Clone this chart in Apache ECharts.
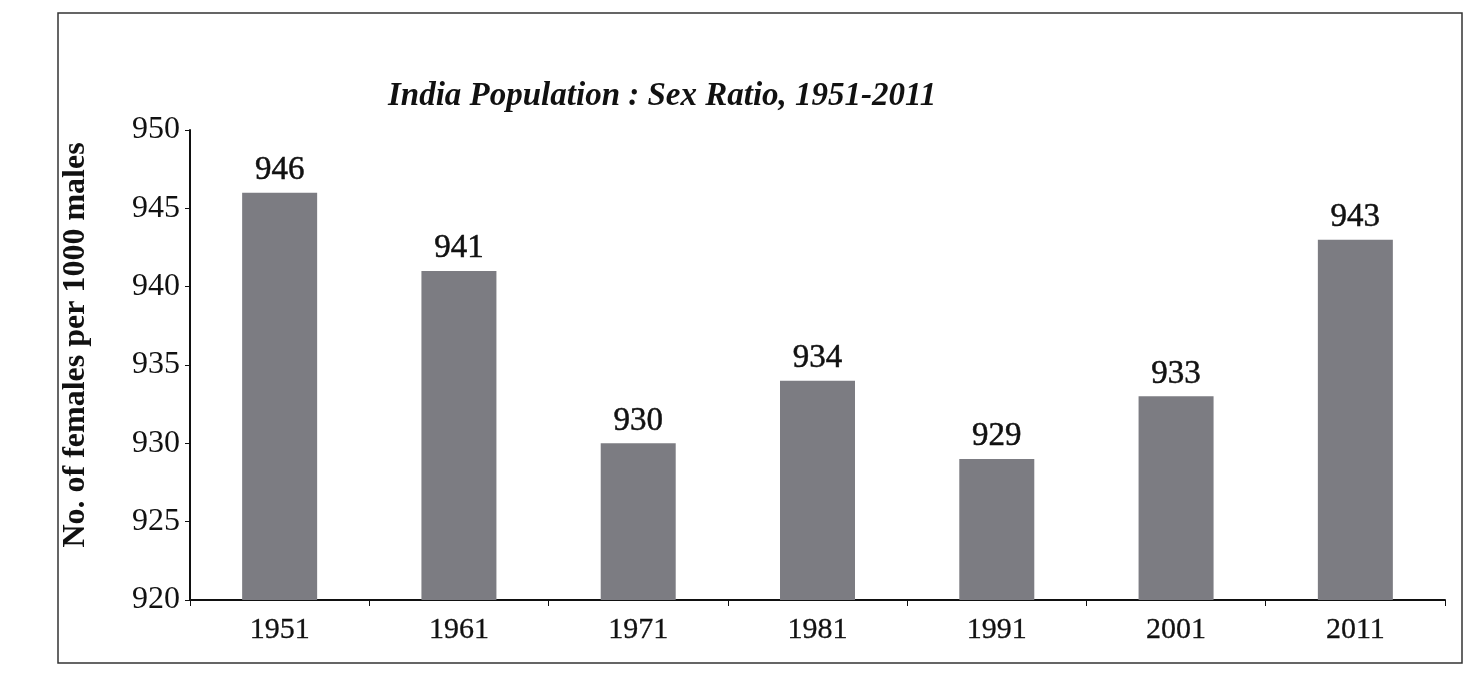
<!DOCTYPE html>
<html>
<head>
<meta charset="utf-8">
<script src="https://cdn.jsdelivr.net/npm/echarts@6/dist/echarts.min.js"></script>
<style>
  html, body { margin: 0; padding: 0; background: #fff; }
  #chart { width: 1481px; height: 676px; }
</style>
</head>
<body>
<div id="chart"></div>
<script>
// Census years and sex ratio (females per 1000 males)
const years = ['1951', '1961', '1971', '1981', '1991', '2001', '2011'];
const sexRatio = [946, 941, 930, 934, 929, 933, 943];
const yTicks = [920, 925, 930, 935, 940, 945, 950];

const serif = '"Liberation Serif", "DejaVu Serif", serif';

const chart = echarts.init(document.getElementById('chart'));

chart.setOption({
    backgroundColor: '#ffffff',
    animation: false,
    title: {
        text: 'India Population : Sex Ratio, 1951-2011',
        left: 383,
        top: 75,
        textStyle: {
            fontFamily: serif,
            fontStyle: 'italic',
            fontWeight: 'bold',
            fontSize: 33,
            color: '#111'
        }
    },
    graphic: [{
        type: 'rect',
        shape: { x: 58, y: 13, width: 1404, height: 650 },
        style: { fill: 'none', stroke: '#333', lineWidth: 1.5 },
        silent: true
    }],
    grid: { left: 190, right: 36, top: 130, bottom: 76 },
    xAxis: {
        type: 'category',
        data: years,
        axisLine: { lineStyle: { color: '#111', width: 2 } },
        axisTick: { show: true, alignWithLabel: false, length: 6, lineStyle: { color: '#111' } },
        axisLabel: {
            fontFamily: serif,
            fontSize: 30,
            color: '#111',
            margin: 15,
            textBorderColor: '#111',
            textBorderWidth: 0.3
        }
    },
    yAxis: {
        type: 'value',
        min: yTicks[0],
        max: yTicks[yTicks.length - 1],
        interval: 5,
        name: 'No. of females per 1000 males',
        nameLocation: 'middle',
        nameGap: 98,
        nameTextStyle: {
            fontFamily: serif,
            fontWeight: 'bold',
            fontSize: 32,
            color: '#111',
            padding: [0, 0, 0, 40]
        },
        splitLine: { show: false },
        axisLine: { show: true, lineStyle: { color: '#111', width: 2 } },
        axisTick: { show: true, length: 5, lineStyle: { color: '#111' } },
        axisLabel: {
            fontFamily: serif,
            fontSize: 32,
            color: '#111',
            margin: 10
        }
    },
    series: [{
        type: 'bar',
        data: sexRatio,
        barWidth: 75,
        itemStyle: { color: '#7c7c82' },
        label: {
            show: true,
            position: 'top',
            distance: 6,
            fontFamily: serif,
            fontSize: 33,
            color: '#111',
            textBorderColor: '#111',
            textBorderWidth: 0.5
        }
    }]
});
</script>
</body>
</html>
